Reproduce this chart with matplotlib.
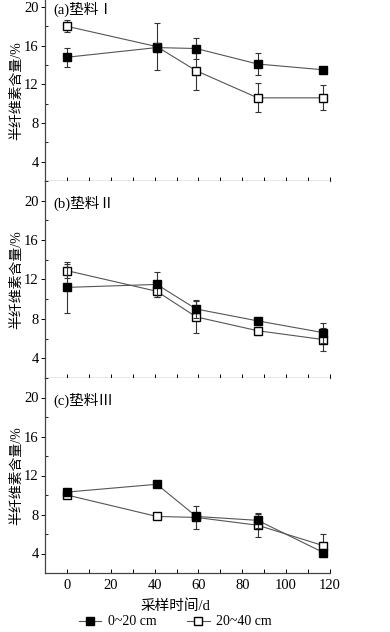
import matplotlib
matplotlib.use("Agg")
import matplotlib.pyplot as plt
from matplotlib.lines import Line2D
from matplotlib.ticker import MultipleLocator

plt.rcParams['font.family'] = ['Liberation Serif', 'Noto Sans CJK SC']
plt.rcParams['font.size'] = 10.5

days = [0, 41, 59, 87, 117]

# panel (a) 垫料I
a_top = [14.8, 15.8, 15.7, 14.1, 13.5]
a_top_err = [1.0, 0.5, 1.1, 1.1, 0.3]
a_bot = [18.0, 15.9, 13.4, 10.6, 10.6]
a_bot_err = [0.6, 2.4, 2.0, 1.5, 1.3]

# panel (b) 垫料II
b_top = [11.2, 11.5, 9.0, 7.8, 6.6]
b_top_err = [2.6, 1.3, 0.9, 0.3, 1.0]
b_bot = [12.9, 10.8, 8.2, 6.8, 5.9]
b_bot_err = [0.7, 0.6, 1.6, 0.4, 1.2]

# panel (c) 垫料III
c_top = [10.3, 11.1, 7.8, 7.4, 4.1]
c_top_err = [0.2, 0.2, 0.3, 0.8, 0.4]
c_bot = [10.0, 7.8, 7.7, 6.9, 4.8]
c_bot_err = [0.3, 0.3, 1.2, 1.2, 1.2]

titles = ["(a)垫料Ⅰ", "(b)垫料Ⅱ", "(c)垫料Ⅲ"]
series = [(a_top, a_top_err, a_bot, a_bot_err),
          (b_top, b_top_err, b_bot, b_bot_err),
          (c_top, c_top_err, c_bot, c_bot_err)]
legend_labels = ["0~20 cm", "20~40 cm"]

W, H = 390, 632
fig = plt.figure(figsize=(W / 100, H / 100), dpi=100)

# pixel boxes (top, bottom) for each panel
boxes = [(0, 181), (181, 378), (378, 573)]
ylims = [(2, 20.72), (2, 22), (2, 22)]
left, right = 45, 330

for i, ((top, bot), title, (t, te, b, be)) in enumerate(zip(boxes, titles, series)):
    ax = fig.add_axes([left / W, 1 - bot / H, (right - left) / W, (bot - top) / H])
    ax.errorbar(days, t, yerr=te, color='#555555', lw=0.8, marker='s', ms=5.5,
                mfc='black', mec='black', ecolor='#333333', elinewidth=0.8,
                capsize=2.5, capthick=0.8, zorder=3)
    ax.errorbar(days, b, yerr=be, color='#555555', lw=0.8, marker='s', ms=5.5,
                mfc='white', mec='black', ecolor='#333333', elinewidth=0.8,
                capsize=2.5, capthick=0.8, zorder=2)
    ax.set_xlim(-10, 120)
    ax.set_ylim(*ylims[i])
    ax.spines['top'].set_visible(False)
    ax.spines['right'].set_visible(False)
    for s in ['left', 'bottom']:
        ax.spines[s].set_color('#444444')
        ax.spines[s].set_linewidth(0.9)
    ax.set_yticks([4, 8, 12, 16, 20])
    ax.yaxis.set_minor_locator(MultipleLocator(2))
    ax.xaxis.set_major_locator(MultipleLocator(20))
    ax.xaxis.set_minor_locator(MultipleLocator(10))
    ax.tick_params(axis='y', which='major', direction='out', length=3, width=0.7, pad=1.5)
    ax.tick_params(axis='y', which='minor', direction='in', length=2, width=0.6)
    ax.tick_params(axis='x', which='both', direction='in', length=3, width=0.7, pad=4)
    if i < 2:
        ax.tick_params(axis='x', labelbottom=False)
    ax.text(-6, 19.7, title, ha='left', va='center', fontsize=10.5)
    ax.set_ylabel("半纤维素含量/%", fontsize=10)
    ax.yaxis.set_label_coords(-0.075, 0.5)
    if i == 2:
        ax.set_xlabel("采样时间/d", fontsize=10.5)
        ax.xaxis.set_label_coords(0.456, -0.135)

handles = [Line2D([], [], color='#555555', lw=0.8, marker='s', ms=5.5, mfc='black', mec='black'),
           Line2D([], [], color='#555555', lw=0.8, marker='s', ms=5.5, mfc='white', mec='black')]
fig.legend(handles, legend_labels, ncol=2, loc='center', bbox_to_anchor=(0.45, 0.016),
           frameon=False, handlelength=1.6, columnspacing=2.2, handletextpad=0.5,
           fontsize=10)

fig.savefig("out.png", dpi=100)
